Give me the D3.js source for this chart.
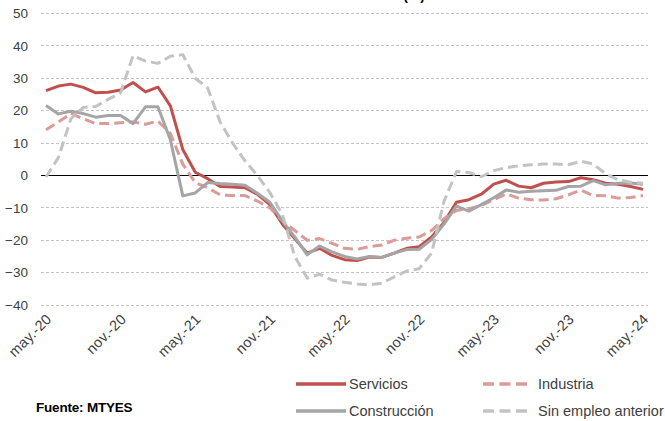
<!DOCTYPE html>
<html>
<head>
<meta charset="utf-8">
<script src="https://cdn.jsdelivr.net/npm/d3@7"></script>
<style>
  body { margin: 0; background: #fff; }
  svg { display: block; font-family: "Liberation Sans", Arial, sans-serif; }
</style>
</head>
<body>
<div id="chart"></div>
<script>
// monthly categories, may-20 .. may-24
var months = ["may.-20","jun.-20","jul.-20","ago.-20","sep.-20","oct.-20","nov.-20","dic.-20",
  "ene.-21","feb.-21","mar.-21","abr.-21","may.-21","jun.-21","jul.-21","ago.-21","sep.-21","oct.-21",
  "nov.-21","dic.-21","ene.-22","feb.-22","mar.-22","abr.-22","may.-22","jun.-22","jul.-22","ago.-22",
  "sep.-22","oct.-22","nov.-22","dic.-22","ene.-23","feb.-23","mar.-23","abr.-23","may.-23","jun.-23",
  "jul.-23","ago.-23","sep.-23","oct.-23","nov.-23","dic.-23","ene.-24","feb.-24","mar.-24","abr.-24","may.-24"];

var xTickLabels = ["may.-20","nov.-20","may.-21","nov.-21","may.-22","nov.-22","may.-23","nov.-23","may.-24"];
var yTicks = [-40, -30, -20, -10, 0, 10, 20, 30, 40, 50];

var servicios = [26.2,27.6,28.2,27.2,25.5,25.7,26.4,28.7,25.8,27.3,21.5,8,1,-1,-3.4,-3.6,-3.8,-5.8,
  -9,-15,-19.5,-24,-22.5,-24.7,-26,-26.3,-25.2,-25.3,-24,-22.5,-22,-19,-14.5,-8.3,-7.5,-5.8,
  -2.7,-1.5,-3.3,-3.8,-2.4,-2,-1.9,-0.7,-1.3,-2.4,-2.7,-3.4,-4.3];

var industria = [14.1,16.5,19.1,17.5,16,16,16.3,16.5,15.8,16.8,13,3.5,-2.2,-3.8,-6,-6.2,-6.2,-7.9,
  -10,-14,-17,-20,-19.5,-21,-22.5,-22.8,-22,-21.5,-20,-19.4,-19,-17,-13.4,-10.8,-10.3,-9.3,
  -7.5,-5.7,-7,-7.5,-7.6,-7.2,-6,-4.5,-6.2,-6.3,-7,-6.8,-6.2];

var construccion = [21.6,19,19.8,19.1,18,18.5,18.5,16,21.2,21.2,11,-6.3,-5.4,-2.2,-2.5,-2.7,-3,-5.5,
  -8.3,-14,-19,-24.5,-21.8,-23.6,-25,-25.8,-25,-25.3,-24,-22.9,-22.8,-19.8,-15,-9.5,-11,-9,
  -6.9,-4.5,-5.2,-4.9,-4.7,-4.6,-3.4,-3.3,-1.6,-2.9,-2.4,-2.3,-2.7];

var sinEmpleo = [-0.5,5.5,17.5,21,21.3,23.5,25.5,37,35.3,34.6,36.8,37.3,30,27,16.5,10,4.5,0,
  -5.3,-12,-25,-31.7,-30.5,-32.3,-33,-33.5,-33.8,-33.3,-31.3,-29.5,-28.8,-24,-8,1.2,0.9,-0.4,
  1.5,2.4,3,3.3,3.5,3.5,3.3,4.4,3.5,0.5,-1.3,-2.1,-2.4];

var seriesNames = ["Servicios", "Industria", "Construcción", "Sin empleo anterior"];

var width = 665, height = 421;

var svg = d3.select("#chart").append("svg")
  .attr("width", width)
  .attr("height", height);

var x = d3.scalePoint()
  .domain(months)
  .range([41, 648])
  .padding(0.4);

var y = d3.scaleLinear()
  .domain([-40, 50])
  .range([305, 13.5]);

// title (cut off at the top in the original)
svg.append("text")
  .attr("x", 425)
  .attr("y", 0)
  .attr("text-anchor", "end")
  .attr("font-size", "14px")
  .attr("font-weight", "bold")
  .attr("fill", "#000")
  .text("(%)");

// gridlines
svg.append("g").selectAll("line")
  .data(yTicks.filter(d => d !== 0))
  .enter().append("line")
  .attr("x1", 41).attr("x2", 648)
  .attr("y1", d => y(d)).attr("y2", d => y(d))
  .attr("stroke", "#c4c4c4")
  .attr("stroke-width", 1)
  .attr("stroke-dasharray", "3,2")
  .attr("shape-rendering", "crispEdges");

svg.append("line")
  .attr("x1", 41).attr("x2", 648)
  .attr("y1", y(0)).attr("y2", y(0))
  .attr("stroke", "#000")
  .attr("stroke-width", 1)
  .attr("shape-rendering", "crispEdges");

// y axis
var leftAxis = d3.axisLeft(y).tickValues(yTicks).tickSize(0).tickPadding(13);
var gy = svg.append("g")
  .attr("transform", "translate(41,0)")
  .call(leftAxis);
gy.select(".domain").remove();
gy.selectAll("text")
  .attr("font-size", "13.5px")
  .attr("font-family", "Liberation Sans, Arial, sans-serif")
  .attr("fill", "#404040");

// x axis
var bottomAxis = d3.axisBottom(x).tickValues(xTickLabels).tickSize(0);
var gx = svg.append("g")
  .attr("transform", "translate(0,305)")
  .call(bottomAxis);
gx.select(".domain").remove();
gx.selectAll("text")
  .attr("font-size", "14.5px")
  .attr("font-family", "Liberation Sans, Arial, sans-serif")
  .attr("letter-spacing", "0.3px")
  .attr("fill", "#404040")
  .attr("text-anchor", "end")
  .attr("dy", 0)
  .attr("y", 0)
  .attr("transform", "translate(6,15) rotate(-45)");

// series
var styles = [
  { name: seriesNames[0], values: servicios, color: "#c0504d", dash: null },
  { name: seriesNames[1], values: industria, color: "#dc9a98", dash: "10,5" },
  { name: seriesNames[2], values: construccion, color: "#a5a5a5", dash: null },
  { name: seriesNames[3], values: sinEmpleo, color: "#c3c3c3", dash: "10,5" }
];

var line = d3.line()
  .x((d, i) => x(months[i]))
  .y(d => y(d));

styles.forEach(function(s) {
  svg.append("path")
    .datum(s.values)
    .attr("d", line)
    .attr("fill", "none")
    .attr("stroke", s.color)
    .attr("stroke-width", 3)
    .attr("stroke-linejoin", "round")
    .attr("stroke-dasharray", s.dash);
});

// legend
var legendPos = [
  { x: 296, y: 384 },
  { x: 483, y: 384 },
  { x: 296, y: 411 },
  { x: 483, y: 411 }
];

styles.forEach(function(s, i) {
  var p = legendPos[i];
  var w = s.dash ? 44 : 50;
  svg.append("line")
    .attr("x1", p.x).attr("x2", p.x + w)
    .attr("y1", p.y).attr("y2", p.y)
    .attr("stroke", s.color)
    .attr("stroke-width", 3.5)
    .attr("stroke-dasharray", s.dash ? "11,5.5" : null);
  svg.append("text")
    .attr("x", s.dash ? p.x + 55 : p.x + 53)
    .attr("y", p.y)
    .attr("dy", "0.35em")
    .attr("font-size", "14.5px")
    .attr("fill", "#404040")
    .text(s.name);
});

svg.append("text")
  .attr("x", 36)
  .attr("y", 412)
  .attr("font-size", "13.5px")
  .attr("font-weight", "bold")
  .attr("letter-spacing", "-0.2px")
  .attr("fill", "#000")
  .text("Fuente: MTYES");
</script>
</body>
</html>
